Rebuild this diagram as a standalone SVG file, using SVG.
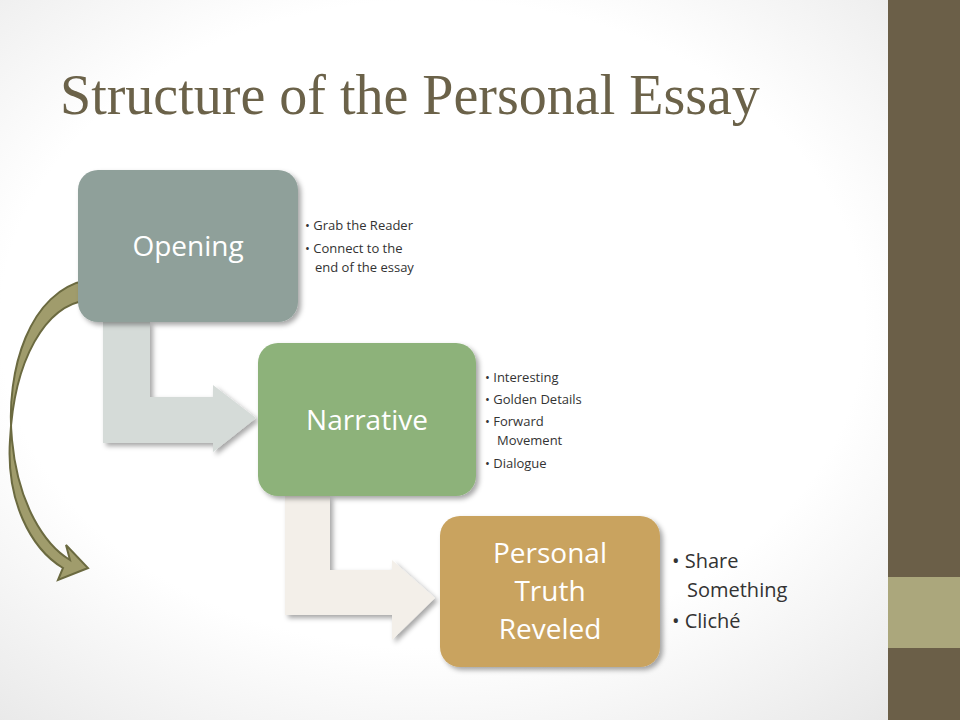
<svg xmlns="http://www.w3.org/2000/svg" width="960" height="720" viewBox="0 0 960 720">
<defs>
<radialGradient id="bg" cx="0.45" cy="0.45" r="0.75"><stop offset="0.6" stop-color="#ffffff"/><stop offset="1" stop-color="#e6e6e6"/></radialGradient>
<filter id="sh" x="-10%" y="-10%" width="125%" height="125%"><feDropShadow dx="3" dy="3" stdDeviation="2.5" flood-color="#000" flood-opacity="0.35"/></filter>
<style>
.box{filter:url(#sh)}
.lbl{font-family:"Open Sans","Liberation Sans",sans-serif;fill:#fff;text-anchor:middle}
.bul{font-family:"Open Sans","Liberation Sans",sans-serif;fill:#333}
</style>
</defs>
<rect width="960" height="720" fill="url(#bg)"/>
<rect x="888" y="0" width="72" height="720" fill="#6b5f48"/>
<rect x="888" y="577" width="72" height="71" fill="#aba77c"/>
<text x="60" y="114" font-family="Liberation Serif,serif" font-size="56" fill="#6b6249">Structure of the Personal Essay</text>
<g id="connectors">
<path d="M103 322 H150 V397 H213 V385 L256 418 L213 452 V443 H103 Z" fill="#d5dbd8" class="box"/>
<path d="M285 496 H330 V570 H392 V560 L435 598 L392 640 V615 H285 Z" fill="#f3efe9" class="box"/>
<path d="M88 280 C30 290 5 370 12 440 C18 505 45 545 70 560 L66 545 L88 568 L58 580 L63 568 C30 548 6 500 10 440 C14 360 45 305 88 300 Z" fill="#a09c6c" stroke="#6b6a40" stroke-width="2"/>
</g>
<g id="opening">
<rect x="78" y="170" width="220" height="152" rx="20" fill="#8fa09a" class="box"/>
<text x="188" y="256" class="lbl" font-size="28">Opening</text>
<text class="bul" font-size="13"><tspan x="305" y="230">• Grab the Reader</tspan><tspan x="305" y="253">• Connect to the</tspan><tspan x="315" y="272">end of the essay</tspan></text>
</g>
<g id="narrative">
<rect x="258" y="343" width="218" height="153" rx="20" fill="#8db27a" class="box"/>
<text x="367" y="430" class="lbl" font-size="28">Narrative</text>
<text class="bul" font-size="13"><tspan x="485" y="382">• Interesting</tspan><tspan x="485" y="404">• Golden Details</tspan><tspan x="485" y="426">• Forward</tspan><tspan x="497" y="445">Movement</tspan><tspan x="485" y="468">• Dialogue</tspan></text>
</g>
<g id="personal">
<rect x="440" y="516" width="220" height="151" rx="20" fill="#c9a35e" class="box"/>
<text class="lbl" font-size="28"><tspan x="550" y="563">Personal</tspan><tspan x="550" y="601">Truth</tspan><tspan x="550" y="639">Reveled</tspan></text>
<text class="bul" font-size="20"><tspan x="672" y="568">• Share</tspan><tspan x="687" y="597">Something</tspan><tspan x="672" y="628">• Cliché</tspan></text>
</g>
</svg>
